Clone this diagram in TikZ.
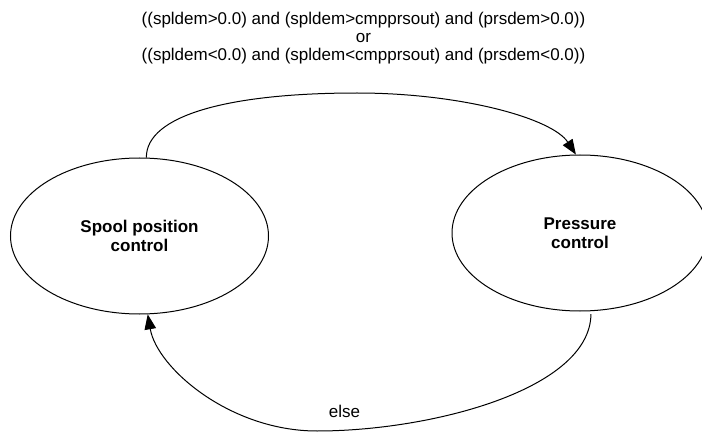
\documentclass[tikz,border=0pt]{standalone}
\usepackage{fontspec}
\setmainfont{Liberation Sans}
\usetikzlibrary{arrows.meta,shapes.geometric}
\tikzset{
  state/.style={draw, ellipse, line width=1pt, inner sep=0pt, align=center,
    font=\fontsize{17}{19.5}\selectfont\bfseries},
  conn/.style={draw, line width=1pt, -{Triangle[length=15pt,width=11.5pt]}},
  lbl/.style={inner sep=0pt, align=center, font=\fontsize{17}{18.3}\selectfont}
}
\begin{document}
\begin{tikzpicture}[x=1pt,y=-1pt]
\useasboundingbox (0,0) rectangle (702,433);
\node[lbl] (cond) at (363.5,38.3) {((spldem>0.0) and (spldem>cmpprsout) and (prsdem>0.0))\\or\\((spldem<0.0) and (spldem<cmpprsout) and (prsdem<0.0))};
\node[state, minimum width=258pt, minimum height=156pt] (L) at (139.5,236) {Spool position\\control};
\node[state, minimum width=256pt, minimum height=156pt] (R) at (580,233) {Pressure\\control};
\node[lbl] (else) at (344.5,411.7) {else};
\draw[conn] (L.85) .. controls (146,115) and (230,93) .. (357,93)
  .. controls (460,93) and (552,118) .. (R.93);
\draw[conn, shorten <=3pt] (R.-82) .. controls (590,390) and (430,431) .. (317,431)
  .. controls (230,431) and (157,368) .. (L.-84);
\end{tikzpicture}
\end{document}
